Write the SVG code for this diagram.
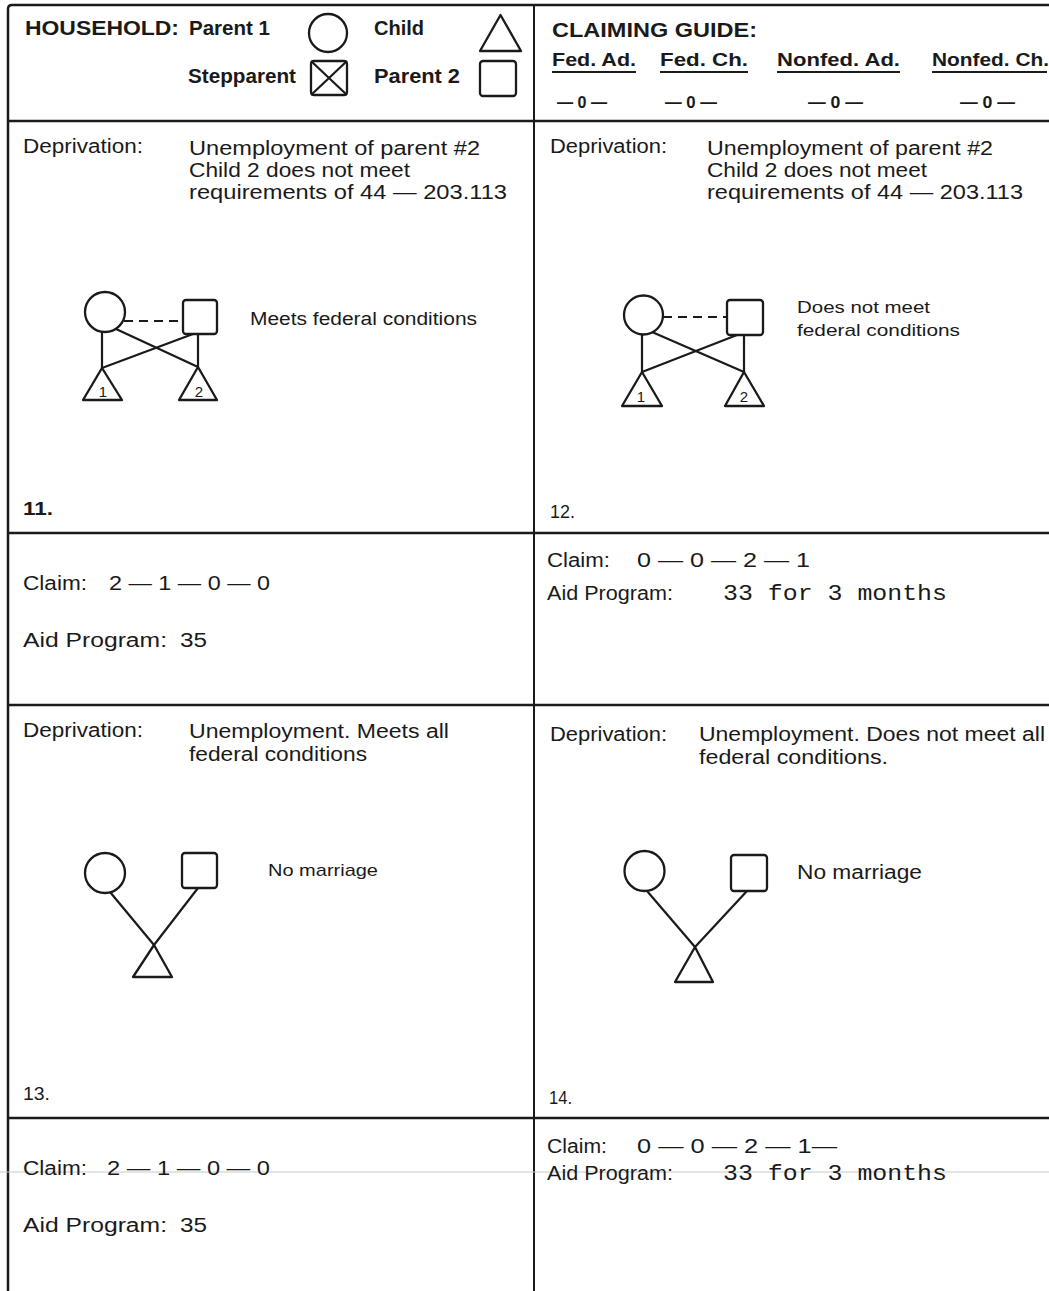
<svg xmlns="http://www.w3.org/2000/svg" width="1049" height="1291" viewBox="0 0 1049 1291">
<style>
text{font-family:"Liberation Sans",Arial,sans-serif;fill:#1a1a1a}
.b{font-weight:bold}
.h{font-size:20px}
.s{font-size:20px}
.m{font-size:18px}
.n{font-size:17px}
.mono{font-family:"Liberation Mono","Courier New",monospace;font-size:22px}
.num{font-size:15px;text-anchor:middle}
.frame{stroke:#1a1a1a;fill:none}
.sh{stroke:#1a1a1a;stroke-width:2.3;fill:none;stroke-linejoin:round}
.ln{stroke:#1a1a1a;stroke-width:2.2;fill:none}
.dash{stroke:#1a1a1a;stroke-width:2.2;stroke-dasharray:9 6;fill:none}
</style>
<rect width="1049" height="1291" fill="#fff"/>
<g id="frame">
<path class="frame" stroke-width="2.5" d="M8,1291 V9 Q8,5 12,5 H1049"/>
<line class="frame" stroke-width="2" x1="534" y1="5" x2="534" y2="1291"/>
<line class="frame" stroke-width="2.5" x1="8" y1="121" x2="1049" y2="121"/>
<line class="frame" stroke-width="2.5" x1="8" y1="533" x2="1049" y2="533"/>
<line class="frame" stroke-width="2.5" x1="8" y1="705" x2="1049" y2="705"/>
<line class="frame" stroke-width="2.5" x1="8" y1="1118" x2="1049" y2="1118"/>
<line stroke="#c8c8c8" stroke-width="1" x1="0" y1="1172" x2="1049" y2="1172"/>
</g>
<g id="legend">
<text class="h b" x="25" y="35" textLength="154" lengthAdjust="spacingAndGlyphs">HOUSEHOLD:</text>
<text class="h b" x="189" y="35" textLength="81" lengthAdjust="spacingAndGlyphs">Parent 1</text>
<circle class="sh" cx="328" cy="33" r="19"/>
<text class="h b" x="374" y="35" textLength="50" lengthAdjust="spacingAndGlyphs">Child</text>
<polygon class="sh" points="500.5,15 521,51 480,51"/>
<text class="h b" x="188" y="83" textLength="108" lengthAdjust="spacingAndGlyphs">Stepparent</text>
<rect class="sh" x="311" y="61" width="36" height="34" rx="3"/>
<path class="ln" d="M311,61 L347,95 M347,61 L311,95"/>
<text class="h b" x="374" y="83" textLength="86" lengthAdjust="spacingAndGlyphs">Parent 2</text>
<rect class="sh" x="480" y="61" width="36" height="35" rx="3"/>
</g>
<g id="claiming-guide">
<text class="h b" x="552" y="37" textLength="205" lengthAdjust="spacingAndGlyphs">CLAIMING GUIDE:</text>
<text class="m b" x="552" y="66" textLength="84" lengthAdjust="spacingAndGlyphs">Fed. Ad.</text>
<text class="m b" x="660" y="66" textLength="88" lengthAdjust="spacingAndGlyphs">Fed. Ch.</text>
<text class="m b" x="777" y="66" textLength="123" lengthAdjust="spacingAndGlyphs">Nonfed. Ad.</text>
<text class="m b" x="932" y="66" textLength="117" lengthAdjust="spacingAndGlyphs">Nonfed. Ch.</text>
<path class="ln" stroke-width="1.5" d="M552,72 H636 M660,72 H748 M777,72 H900 M932,72 H1047"/>
<text class="n b" x="557" y="108" textLength="50" lengthAdjust="spacingAndGlyphs">— 0 —</text>
<text class="n b" x="665" y="108" textLength="52" lengthAdjust="spacingAndGlyphs">— 0 —</text>
<text class="n b" x="808" y="108" textLength="55" lengthAdjust="spacingAndGlyphs">— 0 —</text>
<text class="n b" x="960" y="108" textLength="55" lengthAdjust="spacingAndGlyphs">— 0 —</text>
</g>
<g id="case11">
<text class="s" x="23" y="153" textLength="120" lengthAdjust="spacingAndGlyphs">Deprivation:</text>
<text class="s" x="189" y="155" textLength="291" lengthAdjust="spacingAndGlyphs">Unemployment of parent #2</text>
<text class="s" x="189" y="177" textLength="221" lengthAdjust="spacingAndGlyphs">Child 2 does not meet</text>
<text class="s" x="189" y="199" textLength="318" lengthAdjust="spacingAndGlyphs">requirements of 44 — 203.113</text>
<text class="m" x="250" y="325" textLength="227" lengthAdjust="spacingAndGlyphs">Meets federal conditions</text>
<text class="m b" x="23" y="515" textLength="30" lengthAdjust="spacingAndGlyphs">11.</text>
</g>
<g id="case11-parent1"><circle class="sh" cx="105" cy="312" r="20"/></g>
<g id="case11-parent2"><rect class="sh" x="183" y="300" width="34" height="34" rx="3"/></g>
<g id="case11-child1"><polygon class="sh" points="102,368 122,400 83,400"/><text class="num" x="103" y="397">1</text></g>
<g id="case11-child2"><polygon class="sh" points="198,367 217,400 179,400"/><text class="num" x="199" y="397">2</text></g>
<g id="case12">
<text class="s" x="550" y="153" textLength="117" lengthAdjust="spacingAndGlyphs">Deprivation:</text>
<text class="s" x="707" y="155" textLength="286" lengthAdjust="spacingAndGlyphs">Unemployment of parent #2</text>
<text class="s" x="707" y="177" textLength="220" lengthAdjust="spacingAndGlyphs">Child 2 does not meet</text>
<text class="s" x="707" y="199" textLength="316" lengthAdjust="spacingAndGlyphs">requirements of 44 — 203.113</text>
<text class="n" x="797" y="313" textLength="133" lengthAdjust="spacingAndGlyphs">Does not meet</text>
<text class="n" x="797" y="336" textLength="163" lengthAdjust="spacingAndGlyphs">federal conditions</text>
<text class="m" x="550" y="518" textLength="25" lengthAdjust="spacingAndGlyphs">12.</text>
</g>
<g id="case12-parent1"><circle class="sh" cx="643.5" cy="315" r="19.5"/></g>
<g id="case12-parent2"><rect class="sh" x="727" y="300" width="36" height="35" rx="3"/></g>
<g id="case12-child1"><polygon class="sh" points="642,372 662,406 622,406"/><text class="num" x="641" y="402">1</text></g>
<g id="case12-child2"><polygon class="sh" points="744,372 764,406 725,406"/><text class="num" x="744" y="402">2</text></g>
<g id="claim11">
<text class="s" x="23" y="590" textLength="64" lengthAdjust="spacingAndGlyphs">Claim:</text>
<text class="s" x="109" y="590" textLength="161" lengthAdjust="spacingAndGlyphs">2 — 1 — 0 — 0</text>
<text class="s" x="23" y="647" textLength="144" lengthAdjust="spacingAndGlyphs">Aid Program:</text>
<text class="s" x="180" y="647" textLength="27" lengthAdjust="spacingAndGlyphs">35</text>
</g>
<g id="claim12">
<text class="s" x="547" y="567" textLength="63" lengthAdjust="spacingAndGlyphs">Claim:</text>
<text class="s" x="637" y="567" textLength="173" lengthAdjust="spacingAndGlyphs">0 — 0 — 2 — 1</text>
<text class="s" x="547" y="600" textLength="126" lengthAdjust="spacingAndGlyphs">Aid Program:</text>
<text class="mono" x="723" y="600" textLength="224" lengthAdjust="spacingAndGlyphs">33 for 3 months</text>
</g>
<g id="case13">
<text class="s" x="23" y="737" textLength="120" lengthAdjust="spacingAndGlyphs">Deprivation:</text>
<text class="s" x="189" y="738" textLength="260" lengthAdjust="spacingAndGlyphs">Unemployment. Meets all</text>
<text class="s" x="189" y="761" textLength="178" lengthAdjust="spacingAndGlyphs">federal conditions</text>
<text class="n" x="268" y="876" textLength="110" lengthAdjust="spacingAndGlyphs">No marriage</text>
<text class="m" x="23" y="1100" textLength="27" lengthAdjust="spacingAndGlyphs">13.</text>
</g>
<g id="case13-parent1"><circle class="sh" cx="105" cy="873" r="20"/></g>
<g id="case13-parent2"><rect class="sh" x="182" y="853" width="35" height="35" rx="3"/></g>
<g id="case13-child"><polygon class="sh" points="154,945 172,977 133,977"/></g>
<g id="case14">
<text class="s" x="550" y="741" textLength="117" lengthAdjust="spacingAndGlyphs">Deprivation:</text>
<text class="s" x="699" y="741" textLength="346" lengthAdjust="spacingAndGlyphs">Unemployment. Does not meet all</text>
<text class="s" x="699" y="764" textLength="189" lengthAdjust="spacingAndGlyphs">federal conditions.</text>
<text class="s" x="797" y="879" textLength="125" lengthAdjust="spacingAndGlyphs">No marriage</text>
<text class="m" x="549" y="1104" textLength="23" lengthAdjust="spacingAndGlyphs">14.</text>
</g>
<g id="case14-parent1"><circle class="sh" cx="644.5" cy="871" r="20"/></g>
<g id="case14-parent2"><rect class="sh" x="731" y="855" width="36" height="36" rx="3"/></g>
<g id="case14-child"><polygon class="sh" points="695,947 713,982 675,982"/></g>
<g id="claim13">
<text class="s" x="23" y="1175" textLength="64" lengthAdjust="spacingAndGlyphs">Claim:</text>
<text class="s" x="107" y="1175" textLength="163" lengthAdjust="spacingAndGlyphs">2 — 1 — 0 — 0</text>
<text class="s" x="23" y="1232" textLength="144" lengthAdjust="spacingAndGlyphs">Aid Program:</text>
<text class="s" x="180" y="1232" textLength="27" lengthAdjust="spacingAndGlyphs">35</text>
</g>
<g id="claim14">
<text class="s" x="547" y="1153" textLength="60" lengthAdjust="spacingAndGlyphs">Claim:</text>
<text class="s" x="637" y="1153" textLength="200" lengthAdjust="spacingAndGlyphs">0 — 0 — 2 — 1—</text>
<text class="s" x="547" y="1180" textLength="126" lengthAdjust="spacingAndGlyphs">Aid Program:</text>
<text class="mono" x="723" y="1180" textLength="224" lengthAdjust="spacingAndGlyphs">33 for 3 months</text>
</g>
<g id="connectors">
<line class="dash" x1="124" y1="321" x2="183" y2="321"/>
<line class="ln" x1="102" y1="332" x2="102" y2="368"/>
<line class="ln" x1="198" y1="334" x2="198" y2="367"/>
<line class="ln" x1="116" y1="329" x2="198" y2="367"/>
<line class="ln" x1="193" y1="334" x2="102" y2="368"/>
<line class="dash" x1="663" y1="317" x2="727" y2="317"/>
<line class="ln" x1="642" y1="334" x2="642" y2="372"/>
<line class="ln" x1="744" y1="335" x2="744" y2="372"/>
<line class="ln" x1="652" y1="332" x2="744" y2="372"/>
<line class="ln" x1="737" y1="335" x2="642" y2="372"/>
<line class="ln" x1="110" y1="892" x2="154" y2="945"/>
<line class="ln" x1="198" y1="888" x2="154" y2="945"/>
<line class="ln" x1="647" y1="891" x2="695" y2="947"/>
<line class="ln" x1="747" y1="891" x2="695" y2="947"/>
</g>
</svg>
